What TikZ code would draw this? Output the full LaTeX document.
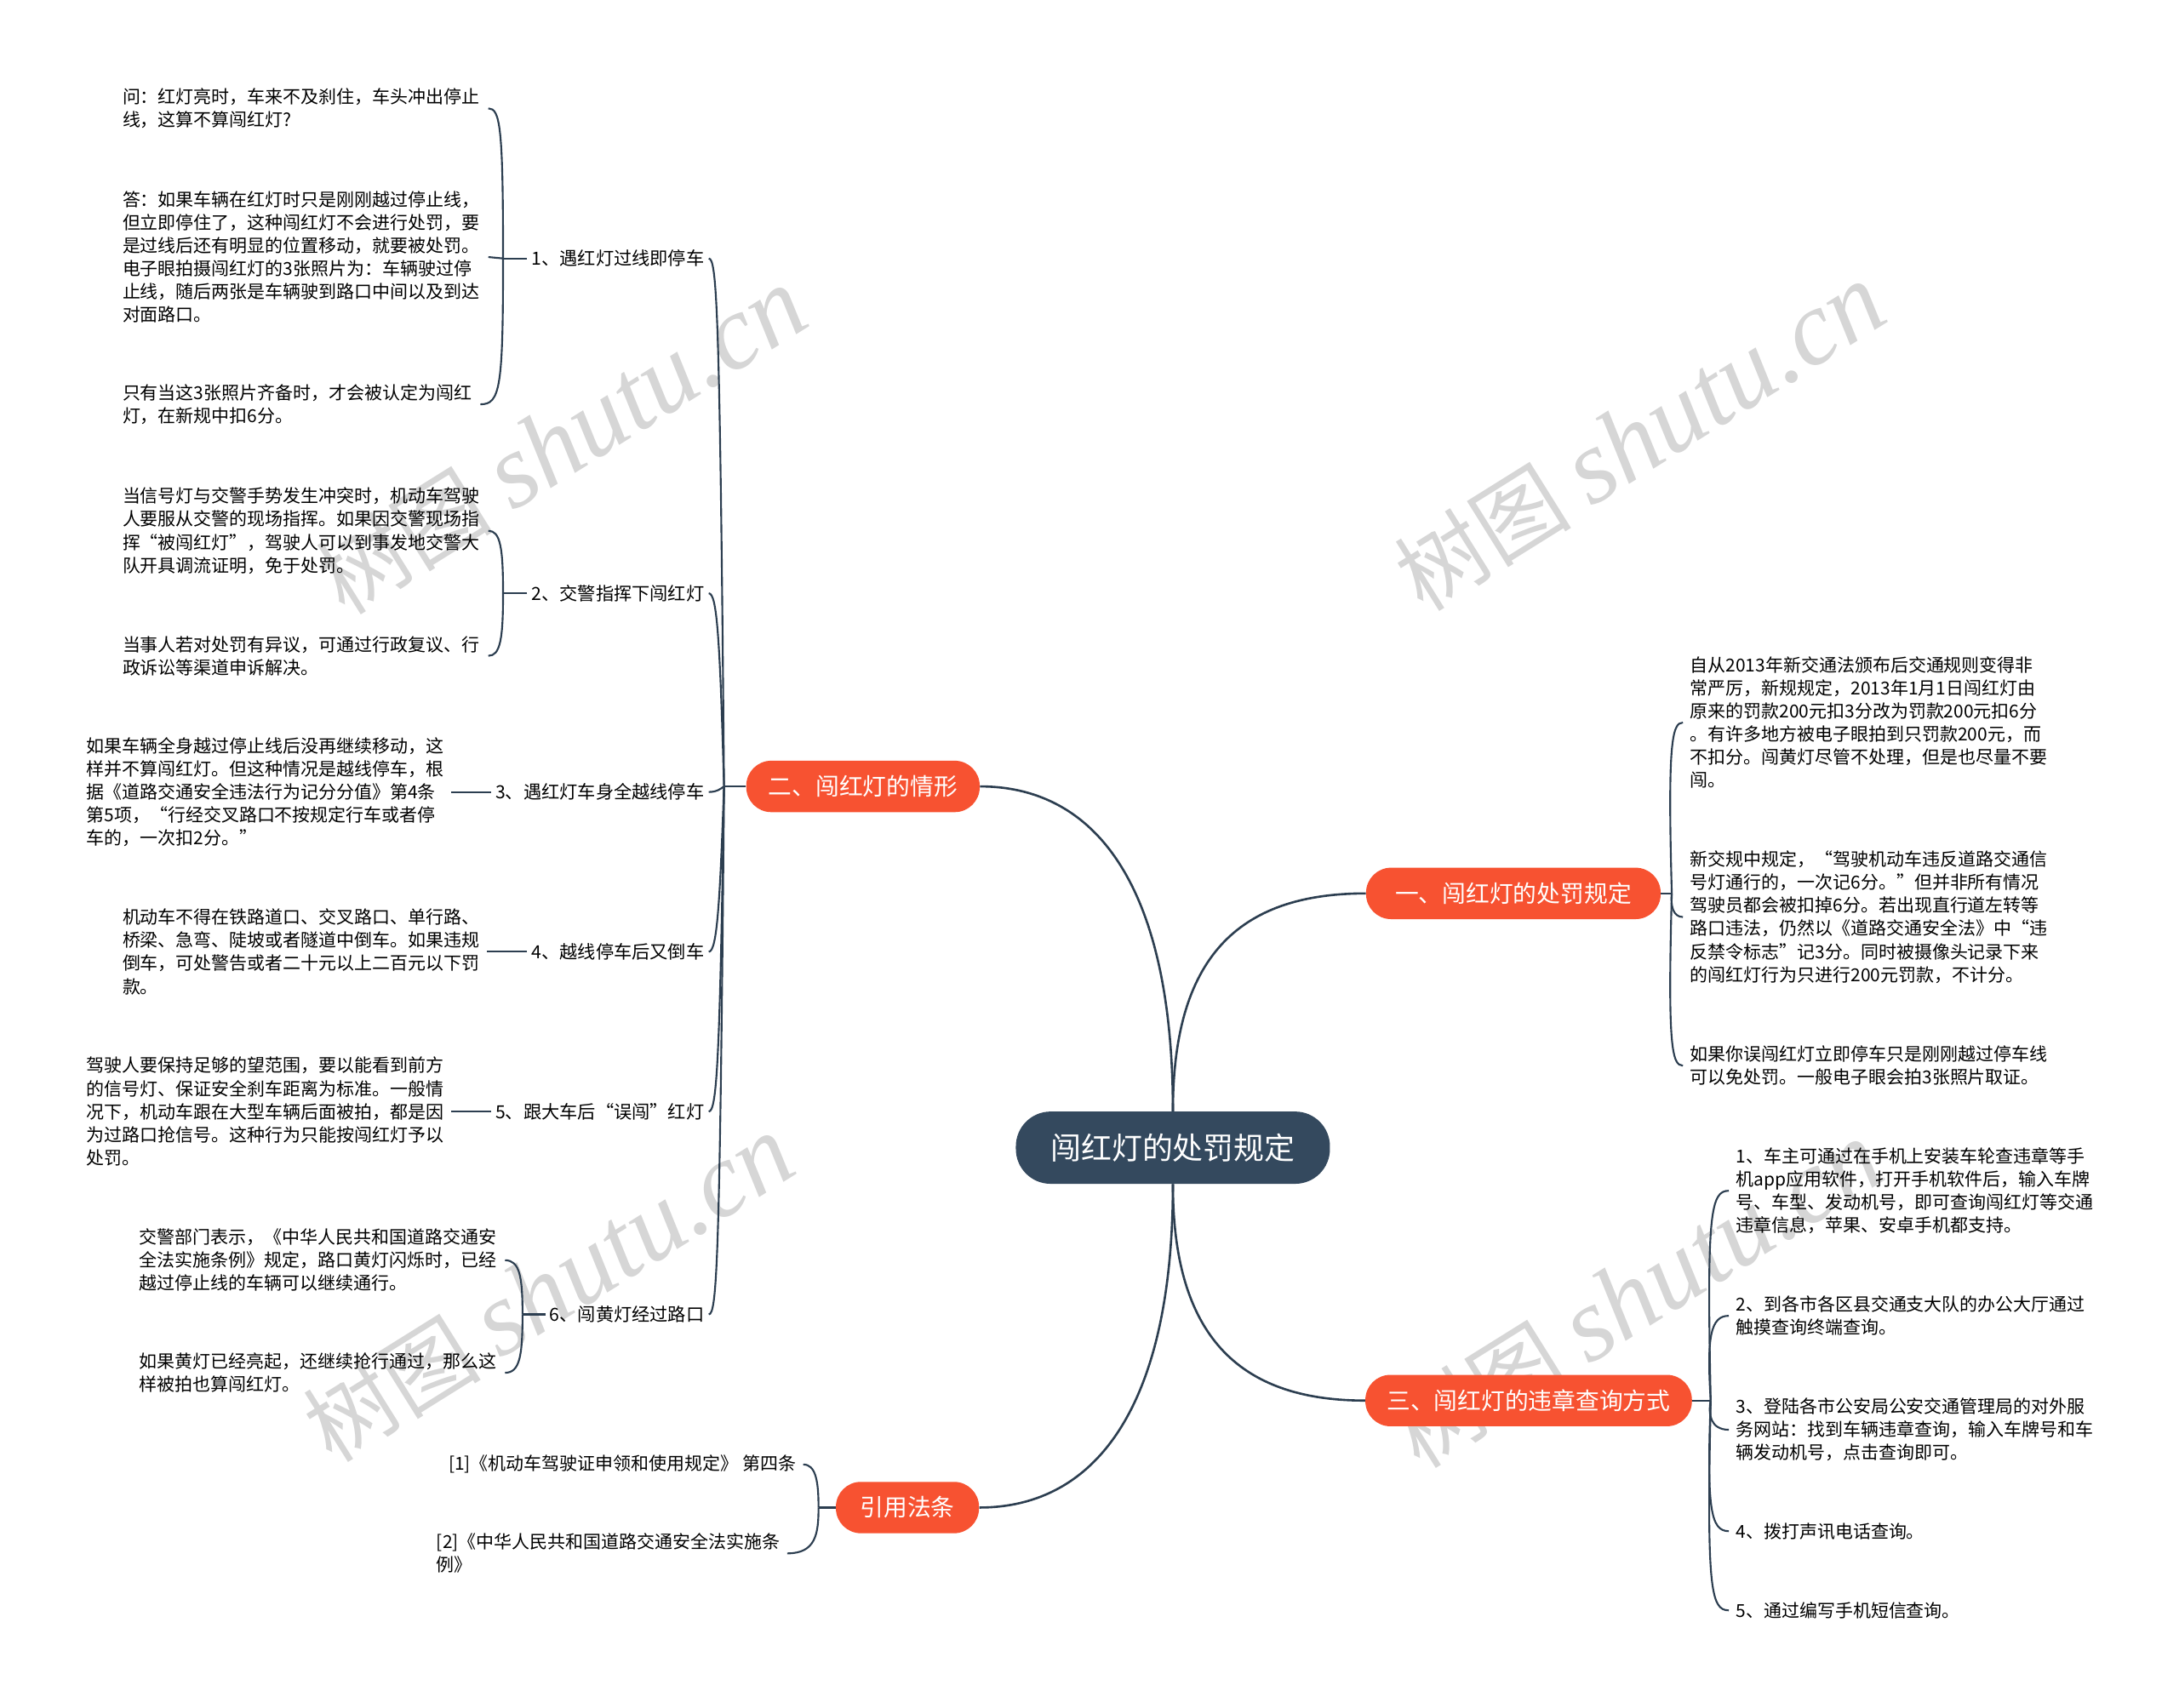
\documentclass[tikz,border=0pt]{standalone}
\usepackage{fontspec}
\setmainfont{Noto Sans CJK SC}
\newfontfamily\wmlatin{Liberation Serif}
\usetikzlibrary{calc}
\definecolor{linec}{HTML}{2C3E50}
\definecolor{rootc}{HTML}{34495E}
\definecolor{mainc}{HTML}{F75231}
\definecolor{wmc}{HTML}{D6D6D6}
\begin{document}
\begin{tikzpicture}[x=1pt,y=-1pt,
  conn/.style={draw=linec, line width=1.3pt},
  mconn/.style={draw=linec, line width=1.6pt},
  rootbox/.style={fill=rootc, text=white, rounded corners=25pt, minimum height=52pt, minimum width=226pt, font=\fontsize{22}{26}\selectfont, inner xsep=0pt},
  mainbox/.style={fill=mainc, text=white, rounded corners=18pt, minimum height=37pt, font=\fontsize{17}{21}\selectfont, inner xsep=0pt},
  sublabel/.style={font=\fontsize{13}{15}\selectfont, inner xsep=3pt, inner ysep=0pt, text=black},
  leaftext/.style={font=\fontsize{12.85}{16.6}\selectfont, inner sep=0pt, align=left, text=black},
  wm/.style={text=wmc, rotate=32, inner sep=0pt, font=\fontsize{64}{64}\selectfont},
  wmlat/.style={font=\wmlatin\itshape\fontsize{76}{76}\selectfont}
]
\fill[white] (0,0) rectangle (1568,1229);
\useasboundingbox (0,0) rectangle (1568,1229);

% watermarks
\node[wm] (w1) at (404,318) {树图 {\wmlatin\itshape\fontsize{76}{76}\selectfont shutu.cn}};
\node[wm] (w2) at (1180,315) {树图 {\wmlatin\itshape\fontsize{76}{76}\selectfont shutu.cn}};
\node[wm] (w3) at (395,928) {树图 {\wmlatin\itshape\fontsize{76}{76}\selectfont shutu.cn}};
\node[wm] (w4) at (1178,932) {树图 {\wmlatin\itshape\fontsize{76}{76}\selectfont shutu.cn}};

% root and main branches
\node[rootbox] (root) at (844,826) {闯红灯的处罚规定};
\node[mainbox, minimum width=168pt] (n2) at (621,566) {二、闯红灯的情形};
\node[mainbox, minimum width=212pt] (n1) at (1089,643) {一、闯红灯的处罚规定};
\node[mainbox, minimum width=235pt] (n3) at (1100,1008) {三、闯红灯的违章查询方式};
\node[mainbox, minimum width=103pt] (n4) at (653,1085) {引用法条};

\draw[mconn] (root.north) .. controls (844,640) and (790,566) .. (n2.east);
\draw[mconn] (root.north) .. controls (844,690) and (890,643) .. (n1.west);
\draw[mconn] (root.south) .. controls (844,960) and (890,1008) .. (n3.west);
\draw[mconn] (root.south) .. controls (844,1010) and (790,1085) .. (n4.east);

% children of 二
\node[sublabel, anchor=east] (c1) at (510,186) {1、遇红灯过线即停车};
\node[sublabel, anchor=east] (c2) at (510,427) {2、交警指挥下闯红灯};
\node[sublabel, anchor=east] (c3) at (510,570) {3、遇红灯车身全越线停车};
\node[sublabel, anchor=east] (c4) at (510,685) {4、越线停车后又倒车};
\node[sublabel, anchor=east] (c5) at (510,800) {5、跟大车后“误闯”红灯};
\node[sublabel, anchor=east] (c6) at (510,946) {6、闯黄灯经过路口};

\coordinate (J2) at (521,566);
\draw[conn] (n2.west) -- (J2);
\draw[conn] (J2) .. controls (518,226) and (516,186) .. (c1.east);
\draw[conn] (J2) .. controls (518,460) and (516,427) .. (c2.east);
\draw[conn] (J2) .. controls (518,568) and (516,570) .. (c3.east);
\draw[conn] (J2) .. controls (518,650) and (516,685) .. (c4.east);
\draw[conn] (J2) .. controls (518,760) and (516,800) .. (c5.east);
\draw[conn] (J2) .. controls (518,906) and (516,946) .. (c6.east);

% leaves of child 1
\node[leaftext, anchor=west] (g11) at (88,78) {问：红灯亮时，车来不及刹住，车头冲出停止\\线，这算不算闯红灯?};
\node[leaftext, anchor=west] (g12) at (88,185) {答：如果车辆在红灯时只是刚刚越过停止线，\\但立即停住了，这种闯红灯不会进行处罚，要\\是过线后还有明显的位置移动，就要被处罚。\\电子眼拍摄闯红灯的3张照片为：车辆驶过停\\止线，随后两张是车辆驶到路口中间以及到达\\对面路口。};
\node[leaftext, anchor=west] (g13) at (88,291) {只有当这3张照片齐备时，才会被认定为闯红\\灯，在新规中扣6分。};
\coordinate (K1) at (362,186);
\draw[conn] (c1.west) -- (K1);
\draw[conn] (K1) .. controls (362,92) and (360,78) .. ($(g11.east)+(6,0)$);
\draw[conn] (K1) -- ($(g12.east)+(6,0)$);
\draw[conn] (K1) .. controls (362,279) and (360,291) .. ($(g13.east)+(6,0)$);

% leaves of child 2
\node[leaftext, anchor=west] (g21) at (88,382) {当信号灯与交警手势发生冲突时，机动车驾驶\\人要服从交警的现场指挥。如果因交警现场指\\挥“被闯红灯”，驾驶人可以到事发地交警大\\队开具调流证明，免于处罚。};
\node[leaftext, anchor=west] (g22) at (88,472) {当事人若对处罚有异议，可通过行政复议、行\\政诉讼等渠道申诉解决。};
\coordinate (K2) at (362,427);
\draw[conn] (c2.west) -- (K2);
\draw[conn] (K2) .. controls (362,394) and (360,382) .. ($(g21.east)+(6,0)$);
\draw[conn] (K2) .. controls (362,460) and (360,472) .. ($(g22.east)+(6,0)$);

% leaf of child 3
\node[leaftext, anchor=west] (g3) at (62,570) {如果车辆全身越过停止线后没再继续移动，这\\样并不算闯红灯。但这种情况是越线停车，根\\据《道路交通安全违法行为记分分值》第4条\\第5项，“行经交叉路口不按规定行车或者停\\车的，一次扣2分。”};
\draw[conn] (c3.west) -- ($(g3.east)+(5,0)$);

% leaf of child 4
\node[leaftext, anchor=west] (g4) at (88,685) {机动车不得在铁路道口、交叉路口、单行路、\\桥梁、急弯、陡坡或者隧道中倒车。如果违规\\倒车，可处警告或者二十元以上二百元以下罚\\款。};
\draw[conn] (c4.west) -- ($(g4.east)+(5,0)$);

% leaf of child 5
\node[leaftext, anchor=west] (g5) at (62,800) {驾驶人要保持足够的望范围，要以能看到前方\\的信号灯、保证安全刹车距离为标准。一般情\\况下，机动车跟在大型车辆后面被拍，都是因\\为过路口抢信号。这种行为只能按闯红灯予以\\处罚。};
\draw[conn] (c5.west) -- ($(g5.east)+(5,0)$);

% leaves of child 6
\node[leaftext, anchor=west] (g61) at (100,907) {交警部门表示，《中华人民共和国道路交通安\\全法实施条例》规定，路口黄灯闪烁时，已经\\越过停止线的车辆可以继续通行。};
\node[leaftext, anchor=west] (g62) at (100,988) {如果黄灯已经亮起，还继续抢行通过，那么这\\样被拍也算闯红灯。};
\coordinate (K6) at (376,946);
\draw[conn] (c6.west) -- (K6);
\draw[conn] (K6) .. controls (376,919) and (374,907) .. ($(g61.east)+(6,0)$);
\draw[conn] (K6) .. controls (376,976) and (374,988) .. ($(g62.east)+(6,0)$);

% branch 一
\node[leaftext, anchor=west] (r11) at (1216,520) {自从2013年新交通法颁布后交通规则变得非\\常严厉，新规规定，2013年1月1日闯红灯由\\原来的罚款200元扣3分改为罚款200元扣6分\\。有许多地方被电子眼拍到只罚款200元，而\\不扣分。闯黄灯尽管不处理，但是也尽量不要\\闯。};
\node[leaftext, anchor=west] (r12) at (1216,660) {新交规中规定，“驾驶机动车违反道路交通信\\号灯通行的，一次记6分。”但并非所有情况\\驾驶员都会被扣掉6分。若出现直行道左转等\\路口违法，仍然以《道路交通安全法》中“违\\反禁令标志”记3分。同时被摄像头记录下来\\的闯红灯行为只进行200元罚款，不计分。};
\node[leaftext, anchor=west] (r13) at (1216,767) {如果你误闯红灯立即停车只是刚刚越过停车线\\可以免处罚。一般电子眼会拍3张照片取证。};
\coordinate (R1) at (1203,643);
\draw[conn] (n1.east) -- (R1);
\draw[conn] (R1) .. controls (1200,536) and (1203,520) .. ($(r11.west)+(-5,0)$);
\draw[conn] (R1) .. controls (1202,652) and (1204,660) .. ($(r12.west)+(-5,0)$);
\draw[conn] (R1) .. controls (1200,752) and (1203,767) .. ($(r13.west)+(-5,0)$);

% branch 三
\node[leaftext, anchor=west] (r31) at (1249,857) {1、车主可通过在手机上安装车轮查违章等手\\机app应用软件，打开手机软件后，输入车牌\\号、车型、发动机号，即可查询闯红灯等交通\\违章信息，苹果、安卓手机都支持。};
\node[leaftext, anchor=west] (r32) at (1249,947) {2、到各市各区县交通支大队的办公大厅通过\\触摸查询终端查询。};
\node[leaftext, anchor=west] (r33) at (1249,1029) {3、登陆各市公安局公安交通管理局的对外服\\务网站：找到车辆违章查询，输入车牌号和车\\辆发动机号，点击查询即可。};
\node[leaftext, anchor=west] (r34) at (1249,1102) {4、拨打声讯电话查询。};
\node[leaftext, anchor=west] (r35) at (1249,1159) {5、通过编写手机短信查询。};
\coordinate (R3) at (1231,1008);
\draw[conn] (n3.east) -- (R3);
\draw[conn] (R3) .. controls (1228,873) and (1231,857) .. ($(r31.west)+(-5,0)$);
\draw[conn] (R3) .. controls (1228,962) and (1231,947) .. ($(r32.west)+(-5,0)$);
\draw[conn] (R3) .. controls (1229,1018) and (1231,1029) .. ($(r33.west)+(-5,0)$);
\draw[conn] (R3) .. controls (1228,1086) and (1231,1102) .. ($(r34.west)+(-5,0)$);
\draw[conn] (R3) .. controls (1228,1143) and (1231,1159) .. ($(r35.west)+(-5,0)$);

% branch 引用法条
\node[leaftext, anchor=east] (f1) at (573,1054) {[1]《机动车驾驶证申领和使用规定》 第四条};
\node[leaftext, anchor=west] (f2) at (314,1118) {[2]《中华人民共和国道路交通安全法实施条\\例》};
\coordinate (L4) at (589,1085);
\draw[conn] (n4.west) -- (L4);
\draw[conn] (L4) .. controls (589,1066) and (587,1054) .. ($(f1.east)+(5,0)$);
\draw[conn] (L4) .. controls (589,1104) and (587,1118) .. ($(f2.east)+(5,0)$);
\end{tikzpicture}
\end{document}
